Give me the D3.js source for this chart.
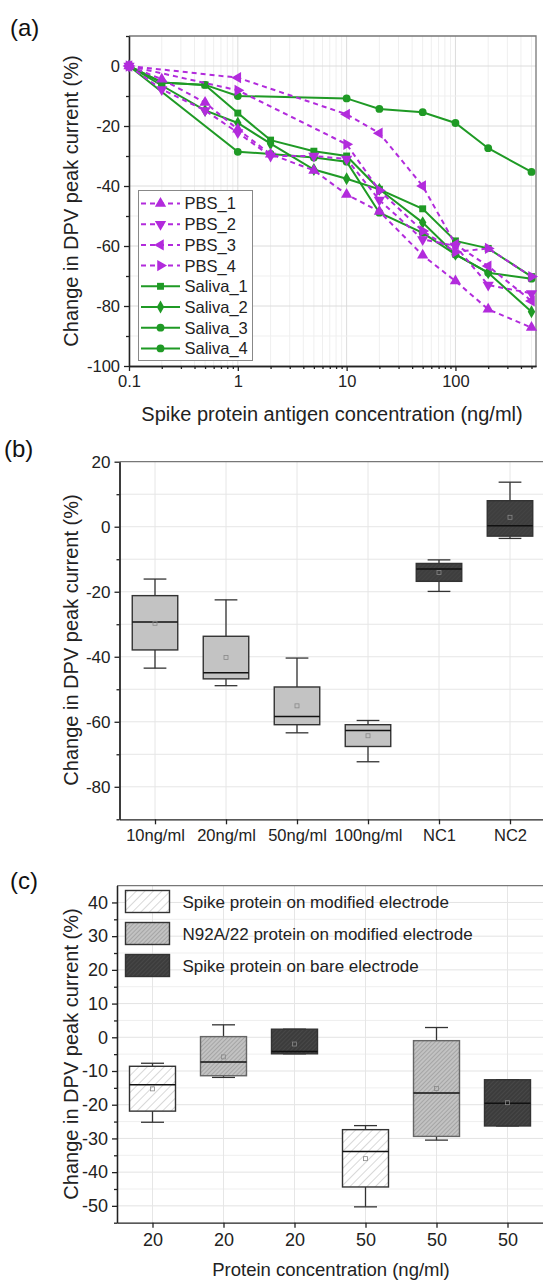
<!DOCTYPE html>
<html>
<head>
<meta charset="utf-8">
<script src="https://cdn.jsdelivr.net/npm/d3@7"></script>
<style>
body { margin: 0; background: #fff; }
svg { display: block; font-family: "Liberation Sans", Arial, sans-serif; }
.axis path, .axis line { stroke: #222; stroke-width: 1.3; }
.axis text { fill: #222; }
</style>
</head>
<body>
<script>
// ---- panel (a): concentration series
var conc = [0.1, 0.2, 0.5, 1, 2, 5, 10, 20, 50, 100, 200, 500];
var pbs1 = [0, -4.4, -12.2, -21.1, -29.4, -34.8, -42.8, -48.5, -63.1, -71.7, -81.1, -87.2];
var pbs2 = [0, -7.8, -14.8, -22.2, -30.0, -30.0, -31.0, -44.7, -57.8, -60.0, -73.0, -75.8];
var pbs3 = [0, null, null, -3.9, null, null, -16.1, -22.4, -40.0, -59.5, -66.7, -78.3];
var pbs4 = [0, null, null, -8.1, null, null, -26.1, -41.5, -55.0, -62.0, -60.8, -70.2];
var saliva1 = [0, -5.5, -6.3, -15.7, -24.7, -28.4, -30.0, -41.1, -47.6, -58.3, -60.8, -70.2];
var saliva2 = [0, -6.5, -14.8, -19.0, -25.9, -34.5, -37.6, -41.1, -52.2, -62.8, -68.9, -81.9];
var saliva3 = [0, null, null, -28.6, -29.3, -30.5, -31.9, -48.9, -55.6, -62.8, -68.9, -70.9];
var saliva4 = [0, -5.5, -6.3, -10.0, null, null, -10.8, -14.3, -15.4, -19.0, -27.4, -35.3];
var seriesNames = ["PBS_1", "PBS_2", "PBS_3", "PBS_4", "Saliva_1", "Saliva_2", "Saliva_3", "Saliva_4"];
var seriesValues = [pbs1, pbs2, pbs3, pbs4, saliva1, saliva2, saliva3, saliva4];
var xTicksA = [0.1, 1, 10, 100];
var yTicksA = [-100, -80, -60, -40, -20, 0];

// ---- panel (b): box stats
var catB = ["10ng/ml", "20ng/ml", "50ng/ml", "100ng/ml", "NC1", "NC2"];
var bMin  = [-43.5, -48.9, -63.4, -72.3, -19.9, -3.6];
var bQ1   = [-37.9, -46.8, -60.9, -67.6, -16.8, -2.9];
var bMed  = [-29.3, -44.9, -58.4, -62.7, -13.0, 0.3];
var bQ3   = [-21.2, -33.7, -49.3, -60.9, -11.3, 8.0];
var bMax  = [-16.1, -22.5, -40.4, -59.6, -10.2, 13.7];
var bMean = [-29.7, -40.2, -55.1, -64.3, -14.1, 2.9];
var yTicksB = [-80, -60, -40, -20, 0, 20];

// ---- panel (c): box stats
var catC = ["20", "20", "20", "50", "50", "50"];
var groupC = [0, 1, 2, 0, 1, 2];
var cMin  = [-25.2, -11.9, -4.9, -50.3, -30.5, -26.3];
var cQ1   = [-21.9, -11.4, -4.9, -44.4, -29.4, -26.3];
var cMed  = [-14.1, -7.3, -4.2, -33.9, -16.5, -19.6];
var cQ3   = [-8.6, 0.2, 2.4, -27.4, -1.0, -12.6];
var cMax  = [-7.7, 3.7, 2.4, -26.2, 2.9, -12.6];
var cMean = [-15.3, -5.8, -2.0, -36.0, -15.2, -19.4];
var legendC = ["Spike protein on modified electrode", "N92A/22 protein on modified electrode", "Spike protein on bare electrode"];
var yTicksC = [-50, -40, -30, -20, -10, 0, 10, 20, 30, 40];

var purple = "#b22bdc", green = "#1f9a25";

var svg = d3.select("body").append("svg")
    .attr("width", 543)
    .attr("height", 1281);

// hatch patterns
var defs = svg.append("defs");
function hatch(id, bg, line, gap, w) {
  var p = defs.append("pattern").attr("id", id)
      .attr("patternUnits", "userSpaceOnUse")
      .attr("width", gap).attr("height", gap)
      .attr("patternTransform", "rotate(45)");
  p.append("rect").attr("width", gap).attr("height", gap).attr("fill", bg);
  p.append("line").attr("x1", 0).attr("y1", 0).attr("x2", 0).attr("y2", gap)
      .attr("stroke", line).attr("stroke-width", w);
}
hatch("hWhite", "#ffffff", "#a8a8a8", 6, 0.9);
hatch("hGray", "#c2c2c2", "#7a7a7a", 3, 0.8);
hatch("hDark", "#3c3c3c", "#5a5a5a", 3, 0.8);
hatch("hDarkB", "#3e3e3e", "#4c4c4c", 3, 0.8);

function label(txt, x, y, size) {
  svg.append("text").attr("x", x).attr("y", y)
      .style("font-size", size + "px").attr("fill", "#111").text(txt);
}
function yTitle(txt, x, y) {
  svg.append("text")
      .attr("transform", "translate(" + x + "," + y + ") rotate(-90)")
      .attr("text-anchor", "middle")
      .style("font-size", "20px").attr("fill", "#222").text(txt);
}

// ================= panel (a) =================
var xa = d3.scaleLog().domain([0.1, 550]).range([129, 536]);
var ya = d3.scaleLinear().domain([-100, 10]).range([366, 36]);

var ga = svg.append("g");
// grid
ga.append("g").selectAll("line").data(xa.ticks()).enter().append("line")
    .attr("x1", d => xa(d)).attr("x2", d => xa(d))
    .attr("y1", ya(-100)).attr("y2", ya(10))
    .attr("stroke", d => xTicksA.indexOf(d) >= 0 ? "#dcdcdc" : "#efefef");
ga.append("g").selectAll("line").data(d3.range(-90, 10, 10)).enter().append("line")
    .attr("x1", xa(0.1)).attr("x2", xa(550))
    .attr("y1", d => ya(d)).attr("y2", d => ya(d))
    .attr("stroke", d => d % 20 === 0 ? "#dcdcdc" : "#efefef");

// frame top / right
ga.append("path")
    .attr("d", "M" + xa(0.1) + "," + ya(10) + "H" + xa(550) + "V" + ya(-100))
    .attr("fill", "none").attr("stroke", "#777").attr("stroke-width", 1.3);

ga.append("g").attr("class", "axis")
    .attr("transform", "translate(0," + ya(-100) + ")")
    .call(d3.axisBottom(xa).tickValues(xTicksA).tickSize(5).tickSizeOuter(0).tickPadding(4)
      .tickFormat(d => String(d)))
    .selectAll("text").style("font-size", "16.5px");
ga.append("g").attr("class", "axis")
    .attr("transform", "translate(0," + ya(-100) + ")")
    .call(d3.axisBottom(xa).tickValues(xa.ticks().filter(d => xTicksA.indexOf(d) < 0))
      .tickSize(3).tickSizeOuter(0).tickFormat(""));
ga.append("g").attr("class", "axis")
    .attr("transform", "translate(" + xa(0.1) + ",0)")
    .call(d3.axisLeft(ya).tickValues(yTicksA).tickSize(5).tickSizeOuter(0).tickPadding(4)
      .tickFormat(d => String(d)))
    .selectAll("text").style("font-size", "16.5px");
ga.append("g").attr("class", "axis")
    .attr("transform", "translate(" + xa(0.1) + ",0)")
    .call(d3.axisLeft(ya).tickValues([-90, -70, -50, -30, -10, 10]).tickSize(3).tickSizeOuter(0).tickFormat(""));

// series
var symbols = [
  {type: d3.symbolTriangle, rot: 0}, {type: d3.symbolTriangle, rot: 180},
  {type: d3.symbolTriangle, rot: -90}, {type: d3.symbolTriangle, rot: 90},
  {type: d3.symbolSquare, rot: 0}, {type: d3.symbolDiamond, rot: 0},
  {type: d3.symbolCircle, rot: 0}, {type: d3.symbolCircle, rot: 0}
];
var line = d3.line().x(d => xa(d.x)).y(d => ya(d.y));
var drawOrder = [4, 5, 6, 7, 0, 1, 2, 3];
drawOrder.forEach(function(s) {
  var pts = conc.map((c, i) => ({x: c, y: seriesValues[s][i]})).filter(d => d.y !== null);
  var col = s < 4 ? purple : green;
  ga.append("path").datum(pts)
      .attr("d", line).attr("fill", "none").attr("stroke", col)
      .attr("stroke-width", 2)
      .attr("stroke-dasharray", s < 4 ? "5,4" : null);
  ga.append("g").selectAll("path").data(pts).enter().append("path")
      .attr("d", d3.symbol().type(symbols[s].type).size(s < 4 ? 55 : 48))
      .attr("transform", d => "translate(" + xa(d.x) + "," + ya(d.y) + ") rotate(" + symbols[s].rot + ")")
      .attr("fill", col);
});

// legend (a)
var lg = ga.append("g");
lg.append("rect").attr("x", 138.5).attr("y", 190.5).attr("width", 114).attr("height", 170)
    .attr("fill", "#fff").attr("stroke", "#888").attr("stroke-width", 1);
seriesNames.forEach(function(n, i) {
  var cy = 203.5 + i * 20.7, col = i < 4 ? purple : green;
  lg.append("line").attr("x1", 141).attr("x2", 180).attr("y1", cy).attr("y2", cy)
      .attr("stroke", col).attr("stroke-width", 2)
      .attr("stroke-dasharray", i < 4 ? "5,4" : null);
  lg.append("path").attr("d", d3.symbol().type(symbols[i].type).size(i < 4 ? 55 : 48))
      .attr("transform", "translate(160.5," + cy + ") rotate(" + symbols[i].rot + ")")
      .attr("fill", col);
  lg.append("text").attr("x", 184.5).attr("y", cy).attr("dy", "0.36em")
      .style("font-size", "16.5px").attr("fill", "#222").text(n);
});

label("(a)", 10, 36, 24);
yTitle("Change in DPV peak current (%)", 78, 201);
svg.append("text").attr("x", 332).attr("y", 421).attr("text-anchor", "middle")
    .style("font-size", "20px").attr("fill", "#222")
    .text("Spike protein antigen concentration (ng/ml)");

// ================= box plot helper =================
function boxPanel(g, x, y, n, mins, q1s, meds, q3s, maxs, means, fillFor, strokeFor, bw) {
  var capW = bw / 2;
  for (var i = 0; i < n; i++) {
    var cx = x(i);
    g.append("line").attr("x1", cx).attr("x2", cx).attr("y1", y(maxs[i])).attr("y2", y(q3s[i]))
        .attr("stroke", "#333").attr("stroke-width", 1.3);
    g.append("line").attr("x1", cx).attr("x2", cx).attr("y1", y(mins[i])).attr("y2", y(q1s[i]))
        .attr("stroke", "#333").attr("stroke-width", 1.3);
    [mins[i], maxs[i]].forEach(function(v) {
      g.append("line").attr("x1", cx - capW / 2).attr("x2", cx + capW / 2)
          .attr("y1", y(v)).attr("y2", y(v)).attr("stroke", "#333").attr("stroke-width", 1.3);
    });
    g.append("rect").attr("x", cx - bw / 2).attr("y", y(q3s[i]))
        .attr("width", bw).attr("height", y(q1s[i]) - y(q3s[i]))
        .attr("fill", fillFor(i)).attr("stroke", strokeFor(i)).attr("stroke-width", 1.4);
    g.append("line").attr("x1", cx - bw / 2).attr("x2", cx + bw / 2)
        .attr("y1", y(meds[i])).attr("y2", y(meds[i]))
        .attr("stroke", "#111").attr("stroke-width", 1.5);
    g.append("rect").attr("x", cx - 2).attr("y", y(means[i]) - 2).attr("width", 4).attr("height", 4)
        .attr("fill", "none").attr("stroke", "#888").attr("stroke-width", 0.8);
  }
}

// ================= panel (b) =================
var xb = d3.scalePoint().domain(catB).range([119.5, 545.5]).padding(0.5);
var yb = d3.scaleLinear().domain([-90, 20]).range([819.3, 461.7]);
var gb = svg.append("g");
gb.append("g").selectAll("line").data(d3.range(-80, 20, 10)).enter().append("line")
    .attr("x1", 119.5).attr("x2", 545.5).attr("y1", d => yb(d)).attr("y2", d => yb(d))
    .attr("stroke", "#e6e6e6");
gb.append("g").selectAll("line").data(catB).enter().append("line")
    .attr("x1", d => xb(d)).attr("x2", d => xb(d)).attr("y1", yb(-90)).attr("y2", yb(20))
    .attr("stroke", "#e6e6e6");
gb.append("line").attr("x1", 119.5).attr("x2", 545.5).attr("y1", yb(20)).attr("y2", yb(20))
    .attr("stroke", "#777").attr("stroke-width", 1.3);
gb.append("g").attr("class", "axis")
    .attr("transform", "translate(0," + yb(-90) + ")")
    .call(d3.axisBottom(xb).tickSize(5).tickSizeOuter(0).tickPadding(5))
    .selectAll("text").style("font-size", "16.5px");
gb.append("g").attr("class", "axis")
    .attr("transform", "translate(119.5,0)")
    .call(d3.axisLeft(yb).tickValues(yTicksB).tickSize(5).tickSizeOuter(0).tickPadding(4)
      .tickFormat(d => String(d)))
    .selectAll("text").style("font-size", "17px");
gb.append("g").attr("class", "axis")
    .attr("transform", "translate(119.5,0)")
    .call(d3.axisLeft(yb).tickValues([-90, -70, -50, -30, -10, 10]).tickSize(3).tickSizeOuter(0).tickFormat(""));
boxPanel(gb, i => xb(catB[i]), yb, catB.length, bMin, bQ1, bMed, bQ3, bMax, bMean,
    i => i < 4 ? "#c3c3c3" : "url(#hDarkB)", i => "#333", 45.5);
label("(b)", 4, 457, 24);
yTitle("Change in DPV peak current (%)", 78, 640);

// ================= panel (c) =================
var idxC = d3.range(catC.length);
var xc = d3.scalePoint().domain(idxC).range([117, 543]).padding(0.5);
var yc = d3.scaleLinear().domain([-55, 45]).range([1222.7, 885.6]);
var gc = svg.append("g");
gc.append("g").selectAll("line").data(d3.range(-50, 45, 5)).enter().append("line")
    .attr("x1", 117).attr("x2", 545).attr("y1", d => yc(d)).attr("y2", d => yc(d))
    .attr("stroke", d => d % 10 === 0 ? "#e3e3e3" : "#efefef");
gc.append("g").selectAll("line").data(idxC).enter().append("line")
    .attr("x1", d => xc(d)).attr("x2", d => xc(d)).attr("y1", yc(-55)).attr("y2", yc(45))
    .attr("stroke", "#e6e6e6");
gc.append("line").attr("x1", 117).attr("x2", 545).attr("y1", yc(45)).attr("y2", yc(45))
    .attr("stroke", "#777").attr("stroke-width", 1.3);
gc.append("g").attr("class", "axis")
    .attr("transform", "translate(0," + yc(-55) + ")")
    .call(d3.axisBottom(xc).tickSize(5).tickSizeOuter(0).tickPadding(6).tickFormat(i => catC[i]))
    .selectAll("text").style("font-size", "18px");
gc.append("g").attr("class", "axis")
    .attr("transform", "translate(117,0)")
    .call(d3.axisLeft(yc).tickValues(yTicksC).tickSize(5).tickSizeOuter(0).tickPadding(4)
      .tickFormat(d => String(d)))
    .selectAll("text").style("font-size", "18px");
gc.append("g").attr("class", "axis")
    .attr("transform", "translate(117,0)")
    .call(d3.axisLeft(yc).tickValues(d3.range(-55, 45, 10)).tickSize(3).tickSizeOuter(0).tickFormat(""));

var fillsC = ["url(#hWhite)", "url(#hGray)", "url(#hDark)"];
var strokesC = ["#333", "#666", "#333"];
boxPanel(gc, i => xc(i), yc, catC.length, cMin, cQ1, cMed, cQ3, cMax, cMean,
    i => fillsC[groupC[i]], i => strokesC[groupC[i]], 46);

legendC.forEach(function(t, i) {
  var top = 890.5 + i * 32;
  gc.append("rect").attr("x", 125.5).attr("y", top).attr("width", 44).attr("height", 22)
      .attr("fill", fillsC[i]).attr("stroke", "#333").attr("stroke-width", 1.4);
  gc.append("text").attr("x", 182.5).attr("y", top + 11).attr("dy", "0.36em")
      .style("font-size", "17px").attr("fill", "#222").text(t);
});

label("(c)", 10, 889, 24);
yTitle("Change in DPV peak current (%)", 78, 1054);
svg.append("text").attr("x", 331).attr("y", 1276).attr("text-anchor", "middle")
    .style("font-size", "18.5px").attr("fill", "#222")
    .text("Protein concentration (ng/ml)");
</script>
</body>
</html>
